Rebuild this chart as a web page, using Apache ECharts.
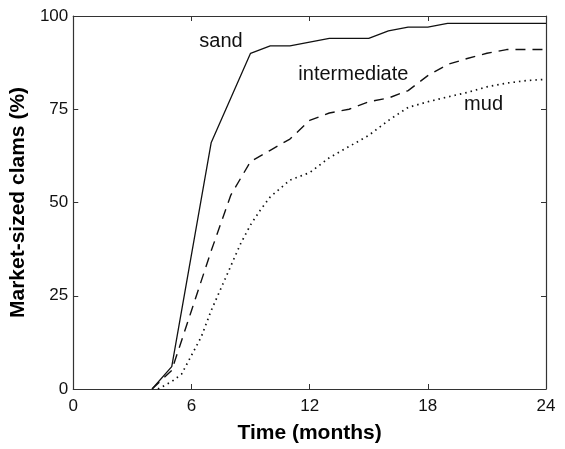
<!doctype html>
<html>
	<head>
		<meta charset="utf-8">
		<title>Market-sized clams</title>
	</head>
	<body style="margin:0;background:#fff">
		<div id="container" style="height: 449px; width: 565px;"></div>

		<script src="https://cdn.jsdelivr.net/npm/echarts@6/dist/echarts.min.js"></script>

		<script>
			// months and % market-sized clams
			const sandMonths = [4, 5, 7, 9, 10, 11, 12, 13, 15, 16, 17, 18, 19, 24];
			const sandPct    = [0, 6, 66, 90, 92, 92, 93, 94, 94, 96, 97, 97, 98, 98];

			const interMonths = [4, 5, 6, 7, 8, 9, 10, 11, 12, 13, 14, 15, 16, 17, 18, 19, 20, 21, 22, 24];
			const interPct    = [0, 5, 21, 37, 52, 61, 64, 67, 72, 74, 75, 77, 78, 80, 84, 87, 88.6, 90, 91, 91];

			const mudMonths = [4.3, 5, 5.5, 6, 6.5, 7, 7.5, 8, 8.5, 9, 9.5, 10, 11, 12, 13, 14, 15, 16, 17, 18, 19, 20, 21, 22, 23, 24];
			const mudPct    = [0, 2, 4, 9, 14, 21, 27, 33, 39, 44, 48, 51.5, 56, 58, 62, 65, 68, 72, 75.5, 77, 78.3, 79.5, 81, 82, 82.7, 83];

			const xTicks = [0, 6, 12, 18, 24];
			const yTicks = [0, 25, 50, 75, 100];

			// where the curve names sit (month, %)
			const labelNames = ['sand', 'intermediate', 'mud'];
			const labelAt = [[7.5, 93.1], [14.22, 84.3], [20.83, 76.3]];

			function pairs(xs, ys) {
				return xs.map((x, i) => [x, ys[i]]);
			}

			const font = 'Liberation Sans, Arial, Helvetica, sans-serif';
			const ink = '#000';

			var myChart = echarts.init(document.getElementById('container'));

			const boxAxis = {
				type: 'value',
				axisLine: { show: true, onZero: false, lineStyle: { color: '#333', width: 1.2 } },
				axisTick: { show: true, inside: true, length: 5, lineStyle: { color: '#333' } },
				splitLine: { show: false }
			};

			let opts = {
				animation: false,
				grid: { left: 70, right: 19, top: 16, bottom: 57 },
				xAxis: [
					Object.assign({}, boxAxis, {
						min: 0, max: 24, interval: 6,
						name: 'Time (months)',
						nameLocation: 'middle',
						nameGap: 34,
						nameTextStyle: { fontFamily: font, fontSize: 21, fontWeight: 'bold', color: ink },
						axisLabel: { fontFamily: font, fontSize: 17, color: '#111', margin: 9,
							formatter: v => xTicks.includes(v) ? String(v) : '' }
					}),
					Object.assign({}, boxAxis, {
						position: 'top', min: 0, max: 24, interval: 6,
						axisLabel: { show: false }
					})
				],
				yAxis: [
					Object.assign({}, boxAxis, {
						min: 0, max: 100, interval: 25,
						name: 'Market-sized clams (%)',
						nameLocation: 'middle',
						nameGap: 22,
						nameTextStyle: { fontFamily: font, fontSize: 21, fontWeight: 'bold', color: ink },
						axisLabel: { fontFamily: font, fontSize: 17, color: '#111', margin: 5,
							formatter: v => yTicks.includes(v) ? String(v) : '' }
					}),
					Object.assign({}, boxAxis, {
						position: 'right', min: 0, max: 100, interval: 25,
						axisLabel: { show: false }
					})
				],
				series: [
					{
						name: 'sand', type: 'line', showSymbol: false,
						lineStyle: { color: '#111', width: 1.3, type: 'solid' },
						data: pairs(sandMonths, sandPct)
					},
					{
						name: 'intermediate', type: 'line', showSymbol: false,
						lineStyle: { color: '#111', width: 1.4, type: [10, 7] },
						data: pairs(interMonths, interPct)
					},
					{
						name: 'mud', type: 'line', showSymbol: false,
						lineStyle: { color: '#111', width: 1.7, type: [1.5, 4] },
						data: pairs(mudMonths, mudPct)
					},
					{
						type: 'scatter', symbolSize: 0, silent: true,
						itemStyle: { opacity: 1 },
						label: {
							show: true, position: 'inside',
							fontFamily: font, fontSize: 20, color: '#111',
							textBorderWidth: 0,
							formatter: p => labelNames[p.dataIndex]
						},
						data: labelAt
					}
				]
			};

			myChart.setOption(opts, true);
		</script>
	</body>
</html>
